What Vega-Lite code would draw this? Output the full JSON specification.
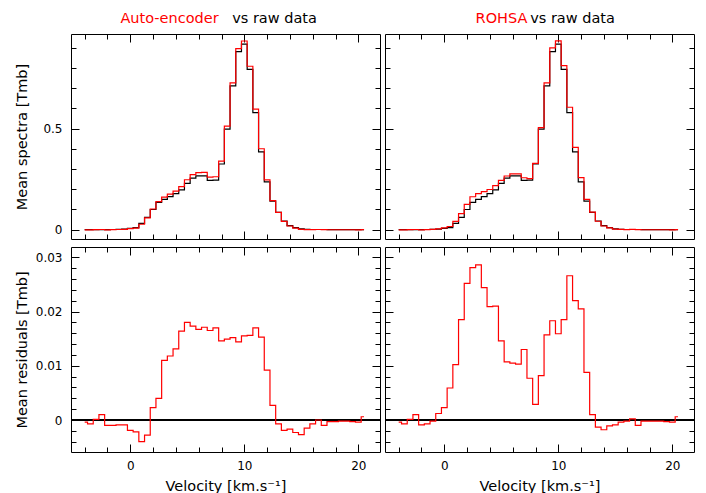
{
 "$schema": "https://vega.github.io/schema/vega-lite/v6.json",
 "padding": {"left": 13, "top": 9, "right": 5, "bottom": 5},
 "background": "white",
 "config": {
  "view": {"stroke": "black", "strokeWidth": 1},
  "axis": {"domain": false, "grid": false, "ticks": true, "tickColor": "black", "tickWidth": 1, "labelFont": "DejaVu Sans", "labelFontSize": 12, "labelColor": "black", "titleFont": "DejaVu Sans", "titleFontSize": 14.5, "titleFontWeight": "normal", "titleColor": "black", "labelFlush": false, "labelOverlap": false}
 },
 "datasets": {
  "spec": [
   {"v": -4, "raw": 0, "ae": -0.0004, "rohsa": -0.0004, "res_ae": -0.0004, "res_rohsa": -0.0004},
   {"v": -3.5, "raw": 0, "ae": -0.0007, "rohsa": -0.0007, "res_ae": -0.0007, "res_rohsa": -0.0007},
   {"v": -3, "raw": 0, "ae": 0.0001, "rohsa": 0.0001, "res_ae": 0.0001, "res_rohsa": 0.0001},
   {"v": -2.5, "raw": 0, "ae": 0.001, "rohsa": 0.001, "res_ae": 0.001, "res_rohsa": 0.001},
   {"v": -2, "raw": 0, "ae": -0.001, "rohsa": -0.0009, "res_ae": -0.001, "res_rohsa": -0.0009},
   {"v": -1.5, "raw": 0.001, "ae": 0.0, "rohsa": 0.0003, "res_ae": -0.001, "res_rohsa": -0.0007},
   {"v": -1, "raw": 0.002, "ae": 0.0011, "rohsa": 0.0018, "res_ae": -0.0009, "res_rohsa": -0.0002},
   {"v": -0.5, "raw": 0.003, "ae": 0.0021, "rohsa": 0.0042, "res_ae": -0.0009, "res_rohsa": 0.0012},
   {"v": 0, "raw": 0.007, "ae": 0.0051, "rohsa": 0.0093, "res_ae": -0.0019, "res_rohsa": 0.0023},
   {"v": 0.5, "raw": 0.01, "ae": 0.0078, "rohsa": 0.0159, "res_ae": -0.0022, "res_rohsa": 0.0059},
   {"v": 1, "raw": 0.031, "ae": 0.027, "rohsa": 0.0412, "res_ae": -0.004, "res_rohsa": 0.0102},
   {"v": 1.5, "raw": 0.061, "ae": 0.0582, "rohsa": 0.0795, "res_ae": -0.0028, "res_rohsa": 0.0185},
   {"v": 2, "raw": 0.1, "ae": 0.1023, "rohsa": 0.1252, "res_ae": 0.0023, "res_rohsa": 0.0252},
   {"v": 2.5, "raw": 0.135, "ae": 0.139, "rohsa": 0.1631, "res_ae": 0.004, "res_rohsa": 0.0281},
   {"v": 3, "raw": 0.15, "ae": 0.161, "rohsa": 0.1786, "res_ae": 0.011, "res_rohsa": 0.0286},
   {"v": 3.5, "raw": 0.164, "ae": 0.1758, "rohsa": 0.1884, "res_ae": 0.0118, "res_rohsa": 0.0244},
   {"v": 4, "raw": 0.178, "ae": 0.1911, "rohsa": 0.1989, "res_ae": 0.0131, "res_rohsa": 0.0209},
   {"v": 4.5, "raw": 0.197, "ae": 0.2134, "rohsa": 0.218, "res_ae": 0.0164, "res_rohsa": 0.021},
   {"v": 5, "raw": 0.229, "ae": 0.247, "rohsa": 0.2436, "res_ae": 0.018, "res_rohsa": 0.0146},
   {"v": 5.5, "raw": 0.255, "ae": 0.2723, "rohsa": 0.2657, "res_ae": 0.0173, "res_rohsa": 0.0107},
   {"v": 6, "raw": 0.266, "ae": 0.2827, "rohsa": 0.2765, "res_ae": 0.0167, "res_rohsa": 0.0105},
   {"v": 6.5, "raw": 0.266, "ae": 0.2831, "rohsa": 0.2763, "res_ae": 0.0171, "res_rohsa": 0.0103},
   {"v": 7, "raw": 0.244, "ae": 0.2605, "rohsa": 0.257, "res_ae": 0.0165, "res_rohsa": 0.013},
   {"v": 7.5, "raw": 0.245, "ae": 0.262, "rohsa": 0.2527, "res_ae": 0.017, "res_rohsa": 0.0077},
   {"v": 8, "raw": 0.325, "ae": 0.3396, "rohsa": 0.3279, "res_ae": 0.0146, "res_rohsa": 0.0029},
   {"v": 8.5, "raw": 0.497, "ae": 0.5119, "rohsa": 0.5052, "res_ae": 0.0149, "res_rohsa": 0.0082},
   {"v": 9, "raw": 0.711, "ae": 0.7262, "rohsa": 0.7267, "res_ae": 0.0152, "res_rohsa": 0.0157},
   {"v": 9.5, "raw": 0.881, "ae": 0.8954, "rohsa": 0.8993, "res_ae": 0.0144, "res_rohsa": 0.0183},
   {"v": 10, "raw": 0.918, "ae": 0.9335, "rohsa": 0.9339, "res_ae": 0.0155, "res_rohsa": 0.0159},
   {"v": 10.5, "raw": 0.793, "ae": 0.8086, "rohsa": 0.8115, "res_ae": 0.0156, "res_rohsa": 0.0185},
   {"v": 11, "raw": 0.579, "ae": 0.596, "rohsa": 0.6056, "res_ae": 0.017, "res_rohsa": 0.0266},
   {"v": 11.5, "raw": 0.385, "ae": 0.4003, "rohsa": 0.407, "res_ae": 0.0153, "res_rohsa": 0.022},
   {"v": 12, "raw": 0.237, "ae": 0.2462, "rohsa": 0.2575, "res_ae": 0.0092, "res_rohsa": 0.0205},
   {"v": 12.5, "raw": 0.141, "ae": 0.1437, "rohsa": 0.1498, "res_ae": 0.0027, "res_rohsa": 0.0088},
   {"v": 13, "raw": 0.086, "ae": 0.0853, "rohsa": 0.087, "res_ae": -0.0007, "res_rohsa": 0.001},
   {"v": 13.5, "raw": 0.043, "ae": 0.0411, "rohsa": 0.0417, "res_ae": -0.0019, "res_rohsa": -0.0013},
   {"v": 14, "raw": 0.02, "ae": 0.0183, "rohsa": 0.0182, "res_ae": -0.0017, "res_rohsa": -0.0018},
   {"v": 14.5, "raw": 0.01, "ae": 0.0077, "rohsa": 0.0089, "res_ae": -0.0023, "res_rohsa": -0.0011},
   {"v": 15, "raw": 0.004, "ae": 0.0013, "rohsa": 0.0031, "res_ae": -0.0027, "res_rohsa": -0.0009},
   {"v": 15.5, "raw": 0.002, "ae": 0.0005, "rohsa": 0.0016, "res_ae": -0.0015, "res_rohsa": -0.0004},
   {"v": 16, "raw": 0.001, "ae": 0.0003, "rohsa": 0.0008, "res_ae": -0.0007, "res_rohsa": -0.0002},
   {"v": 16.5, "raw": 0.001, "ae": 0.001, "rohsa": 0.0012, "res_ae": 0.0, "res_rohsa": 0.0002},
   {"v": 17, "raw": 0.001, "ae": 0.0, "rohsa": 0.0, "res_ae": -0.001, "res_rohsa": -0.001},
   {"v": 17.5, "raw": 0, "ae": -0.0003, "rohsa": -0.0002, "res_ae": -0.0003, "res_rohsa": -0.0002},
   {"v": 18, "raw": 0, "ae": -0.0003, "rohsa": -0.0002, "res_ae": -0.0003, "res_rohsa": -0.0002},
   {"v": 18.5, "raw": 0, "ae": -0.0002, "rohsa": -0.0002, "res_ae": -0.0002, "res_rohsa": -0.0002},
   {"v": 19, "raw": 0, "ae": -0.0002, "rohsa": -0.0002, "res_ae": -0.0002, "res_rohsa": -0.0002},
   {"v": 19.5, "raw": 0, "ae": -0.0003, "rohsa": -0.0003, "res_ae": -0.0003, "res_rohsa": -0.0003},
   {"v": 20, "raw": 0, "ae": -0.0004, "rohsa": -0.0004, "res_ae": -0.0004, "res_rohsa": -0.0004},
   {"v": 20.5, "raw": 0, "ae": 0.0006, "rohsa": 0.0006, "res_ae": 0.0006, "res_rohsa": 0.0006}
  ]
 },
 "columns": 2,
 "spacing": {"row": 6, "column": 3},
 "concat": [
  {
   "width": 309, "height": 205,
   "data": {"name": "spec"},
   "layer": [
    {"mark": {"type": "line", "interpolate": "step", "color": "black", "strokeWidth": 1.2},
     "encoding": {
      "x": {"field": "v", "type": "quantitative", "scale": {"domain": [-5.2, 21.9], "nice": false, "zero": false}, "axis": {"orient": "bottom", "values": [0, 10, 20], "labels": false, "tickSize": -8, "title": null}},
      "y": {"field": "raw", "type": "quantitative", "scale": {"domain": [-0.046, 0.968], "nice": false, "zero": false}, "axis": {"orient": "left", "values": [0, 0.5], "format": "~g", "tickSize": -8, "labelPadding": 17, "title": "Mean spectra [Tmb]", "titleX": -49, "titleBaseline": "middle"}}
     }},
    {"mark": {"type": "line", "interpolate": "step", "color": "#ff0000", "strokeWidth": 1.2},
     "encoding": {
      "x": {"field": "v", "type": "quantitative", "scale": {"domain": [-5.2, 21.9], "nice": false, "zero": false}, "axis": {"orient": "top", "values": [0, 10, 20], "labels": false, "tickSize": -8, "title": "Auto-encoder", "titleColor": "#ff0000", "titleX": 98, "titleY": -12, "titleBaseline": "alphabetic", "titleAlign": "center"}},
      "y": {"field": "ae", "type": "quantitative", "scale": {"domain": [-0.046, 0.968], "nice": false, "zero": false}, "axis": {"orient": "right", "values": [0, 0.5], "labels": false, "tickSize": -8, "title": null}}
     }},
    {"mark": {"type": "line", "opacity": 0},
     "encoding": {
      "x": {"field": "v", "type": "quantitative", "scale": {"domain": [-5.2, 21.9], "nice": false, "zero": false}, "axis": {"orient": "bottom", "values": [-4, -2, 2, 4, 6, 8, 12, 14, 16, 18], "labels": false, "tickSize": -5, "title": null}},
      "y": {"field": "raw", "type": "quantitative", "scale": {"domain": [-0.046, 0.968], "nice": false, "zero": false}, "axis": {"orient": "left", "values": [0.1, 0.2, 0.3, 0.4, 0.6, 0.7, 0.8, 0.9], "labels": false, "tickSize": -5, "title": null}}
     }},
    {"mark": {"type": "line", "opacity": 0},
     "encoding": {
      "x": {"field": "v", "type": "quantitative", "scale": {"domain": [-5.2, 21.9], "nice": false, "zero": false}, "axis": {"orient": "top", "values": [-4, -2, 2, 4, 6, 8, 12, 14, 16, 18], "labels": false, "tickSize": -5, "title": "vs raw data", "titleX": 203, "titleY": -12, "titleBaseline": "alphabetic", "titleAlign": "center"}},
      "y": {"field": "raw", "type": "quantitative", "scale": {"domain": [-0.046, 0.968], "nice": false, "zero": false}, "axis": {"orient": "right", "values": [0.1, 0.2, 0.3, 0.4, 0.6, 0.7, 0.8, 0.9], "labels": false, "tickSize": -5, "title": null}}
     }}
   ],
   "resolve": {"axis": {"x": "independent", "y": "independent"}}
  },
  {
   "width": 309, "height": 205,
   "data": {"name": "spec"},
   "layer": [
    {"mark": {"type": "line", "interpolate": "step", "color": "black", "strokeWidth": 1.2},
     "encoding": {
      "x": {"field": "v", "type": "quantitative", "scale": {"domain": [-5.2, 21.9], "nice": false, "zero": false}, "axis": {"orient": "bottom", "values": [0, 10, 20], "labels": false, "tickSize": -8, "title": null}},
      "y": {"field": "raw", "type": "quantitative", "scale": {"domain": [-0.046, 0.968], "nice": false, "zero": false}, "axis": {"orient": "left", "values": [0, 0.5], "labels": false, "tickSize": -8, "title": null}}
     }},
    {"mark": {"type": "line", "interpolate": "step", "color": "#ff0000", "strokeWidth": 1.2},
     "encoding": {
      "x": {"field": "v", "type": "quantitative", "scale": {"domain": [-5.2, 21.9], "nice": false, "zero": false}, "axis": {"orient": "top", "values": [0, 10, 20], "labels": false, "tickSize": -8, "title": "ROHSA", "titleColor": "#ff0000", "titleX": 116, "titleY": -12, "titleBaseline": "alphabetic", "titleAlign": "center"}},
      "y": {"field": "rohsa", "type": "quantitative", "scale": {"domain": [-0.046, 0.968], "nice": false, "zero": false}, "axis": {"orient": "right", "values": [0, 0.5], "labels": false, "tickSize": -8, "title": null}}
     }},
    {"mark": {"type": "line", "opacity": 0},
     "encoding": {
      "x": {"field": "v", "type": "quantitative", "scale": {"domain": [-5.2, 21.9], "nice": false, "zero": false}, "axis": {"orient": "bottom", "values": [-4, -2, 2, 4, 6, 8, 12, 14, 16, 18], "labels": false, "tickSize": -5, "title": null}},
      "y": {"field": "raw", "type": "quantitative", "scale": {"domain": [-0.046, 0.968], "nice": false, "zero": false}, "axis": {"orient": "left", "values": [0.1, 0.2, 0.3, 0.4, 0.6, 0.7, 0.8, 0.9], "labels": false, "tickSize": -5, "title": null}}
     }},
    {"mark": {"type": "line", "opacity": 0},
     "encoding": {
      "x": {"field": "v", "type": "quantitative", "scale": {"domain": [-5.2, 21.9], "nice": false, "zero": false}, "axis": {"orient": "top", "values": [-4, -2, 2, 4, 6, 8, 12, 14, 16, 18], "labels": false, "tickSize": -5, "title": "vs raw data", "titleX": 187, "titleY": -12, "titleBaseline": "alphabetic", "titleAlign": "center"}},
      "y": {"field": "raw", "type": "quantitative", "scale": {"domain": [-0.046, 0.968], "nice": false, "zero": false}, "axis": {"orient": "right", "values": [0.1, 0.2, 0.3, 0.4, 0.6, 0.7, 0.8, 0.9], "labels": false, "tickSize": -5, "title": null}}
     }}
   ],
   "resolve": {"axis": {"x": "independent", "y": "independent"}}
  },
  {
   "width": 309, "height": 205,
   "data": {"name": "spec"},
   "layer": [
    {"mark": {"type": "rule", "color": "black", "strokeWidth": 1},
     "encoding": {"y": {"datum": 0, "type": "quantitative", "scale": {"domain": [-0.0059, 0.0319], "nice": false, "zero": false}, "axis": null}}},
    {"mark": {"type": "line", "interpolate": "step", "color": "#ff0000", "strokeWidth": 1.2},
     "encoding": {
      "x": {"field": "v", "type": "quantitative", "scale": {"domain": [-5.2, 21.9], "nice": false, "zero": false}, "axis": {"orient": "bottom", "values": [0, 10, 20], "format": "d", "tickSize": -8, "labelPadding": 16, "title": "Velocity [km.s⁻¹]", "titleY": 27, "titleBaseline": "top"}},
      "y": {"field": "res_ae", "type": "quantitative", "scale": {"domain": [-0.0059, 0.0319], "nice": false, "zero": false}, "axis": {"orient": "left", "values": [0, 0.01, 0.02, 0.03], "format": "~g", "tickSize": -8, "labelPadding": 17, "title": "Mean residuals [Tmb]", "titleX": -49, "titleBaseline": "middle"}}
     }},
    {"mark": {"type": "line", "opacity": 0},
     "encoding": {
      "x": {"field": "v", "type": "quantitative", "scale": {"domain": [-5.2, 21.9], "nice": false, "zero": false}, "axis": {"orient": "top", "values": [0, 10, 20], "labels": false, "tickSize": -8, "title": null}},
      "y": {"field": "res_ae", "type": "quantitative", "scale": {"domain": [-0.0059, 0.0319], "nice": false, "zero": false}, "axis": {"orient": "right", "values": [0, 0.01, 0.02, 0.03], "labels": false, "tickSize": -8, "title": null}}
     }},
    {"mark": {"type": "line", "opacity": 0},
     "encoding": {
      "x": {"field": "v", "type": "quantitative", "scale": {"domain": [-5.2, 21.9], "nice": false, "zero": false}, "axis": {"orient": "bottom", "values": [-4, -2, 2, 4, 6, 8, 12, 14, 16, 18], "labels": false, "tickSize": -5, "title": null}},
      "y": {"field": "res_ae", "type": "quantitative", "scale": {"domain": [-0.0059, 0.0319], "nice": false, "zero": false}, "axis": {"orient": "left", "values": [-0.004, -0.002, 0.002, 0.004, 0.006, 0.008, 0.012, 0.014, 0.016, 0.018, 0.022, 0.024, 0.026, 0.028], "labels": false, "tickSize": -5, "title": null}}
     }},
    {"mark": {"type": "line", "opacity": 0},
     "encoding": {
      "x": {"field": "v", "type": "quantitative", "scale": {"domain": [-5.2, 21.9], "nice": false, "zero": false}, "axis": {"orient": "top", "values": [-4, -2, 2, 4, 6, 8, 12, 14, 16, 18], "labels": false, "tickSize": -5, "title": null}},
      "y": {"field": "res_ae", "type": "quantitative", "scale": {"domain": [-0.0059, 0.0319], "nice": false, "zero": false}, "axis": {"orient": "right", "values": [-0.004, -0.002, 0.002, 0.004, 0.006, 0.008, 0.012, 0.014, 0.016, 0.018, 0.022, 0.024, 0.026, 0.028], "labels": false, "tickSize": -5, "title": null}}
     }}
   ],
   "resolve": {"axis": {"x": "independent", "y": "independent"}}
  },
  {
   "width": 309, "height": 205,
   "data": {"name": "spec"},
   "layer": [
    {"mark": {"type": "rule", "color": "black", "strokeWidth": 1},
     "encoding": {"y": {"datum": 0, "type": "quantitative", "scale": {"domain": [-0.0059, 0.0319], "nice": false, "zero": false}, "axis": null}}},
    {"mark": {"type": "line", "interpolate": "step", "color": "#ff0000", "strokeWidth": 1.2},
     "encoding": {
      "x": {"field": "v", "type": "quantitative", "scale": {"domain": [-5.2, 21.9], "nice": false, "zero": false}, "axis": {"orient": "bottom", "values": [0, 10, 20], "format": "d", "tickSize": -8, "labelPadding": 16, "title": "Velocity [km.s⁻¹]", "titleY": 27, "titleBaseline": "top"}},
      "y": {"field": "res_rohsa", "type": "quantitative", "scale": {"domain": [-0.0059, 0.0319], "nice": false, "zero": false}, "axis": {"orient": "left", "values": [0, 0.01, 0.02, 0.03], "labels": false, "tickSize": -8, "title": null}}
     }},
    {"mark": {"type": "line", "opacity": 0},
     "encoding": {
      "x": {"field": "v", "type": "quantitative", "scale": {"domain": [-5.2, 21.9], "nice": false, "zero": false}, "axis": {"orient": "top", "values": [0, 10, 20], "labels": false, "tickSize": -8, "title": null}},
      "y": {"field": "res_rohsa", "type": "quantitative", "scale": {"domain": [-0.0059, 0.0319], "nice": false, "zero": false}, "axis": {"orient": "right", "values": [0, 0.01, 0.02, 0.03], "labels": false, "tickSize": -8, "title": null}}
     }},
    {"mark": {"type": "line", "opacity": 0},
     "encoding": {
      "x": {"field": "v", "type": "quantitative", "scale": {"domain": [-5.2, 21.9], "nice": false, "zero": false}, "axis": {"orient": "bottom", "values": [-4, -2, 2, 4, 6, 8, 12, 14, 16, 18], "labels": false, "tickSize": -5, "title": null}},
      "y": {"field": "res_rohsa", "type": "quantitative", "scale": {"domain": [-0.0059, 0.0319], "nice": false, "zero": false}, "axis": {"orient": "left", "values": [-0.004, -0.002, 0.002, 0.004, 0.006, 0.008, 0.012, 0.014, 0.016, 0.018, 0.022, 0.024, 0.026, 0.028], "labels": false, "tickSize": -5, "title": null}}
     }},
    {"mark": {"type": "line", "opacity": 0},
     "encoding": {
      "x": {"field": "v", "type": "quantitative", "scale": {"domain": [-5.2, 21.9], "nice": false, "zero": false}, "axis": {"orient": "top", "values": [-4, -2, 2, 4, 6, 8, 12, 14, 16, 18], "labels": false, "tickSize": -5, "title": null}},
      "y": {"field": "res_rohsa", "type": "quantitative", "scale": {"domain": [-0.0059, 0.0319], "nice": false, "zero": false}, "axis": {"orient": "right", "values": [-0.004, -0.002, 0.002, 0.004, 0.006, 0.008, 0.012, 0.014, 0.016, 0.018, 0.022, 0.024, 0.026, 0.028], "labels": false, "tickSize": -5, "title": null}}
     }}
   ],
   "resolve": {"axis": {"x": "independent", "y": "independent"}}
  }
 ]
}
